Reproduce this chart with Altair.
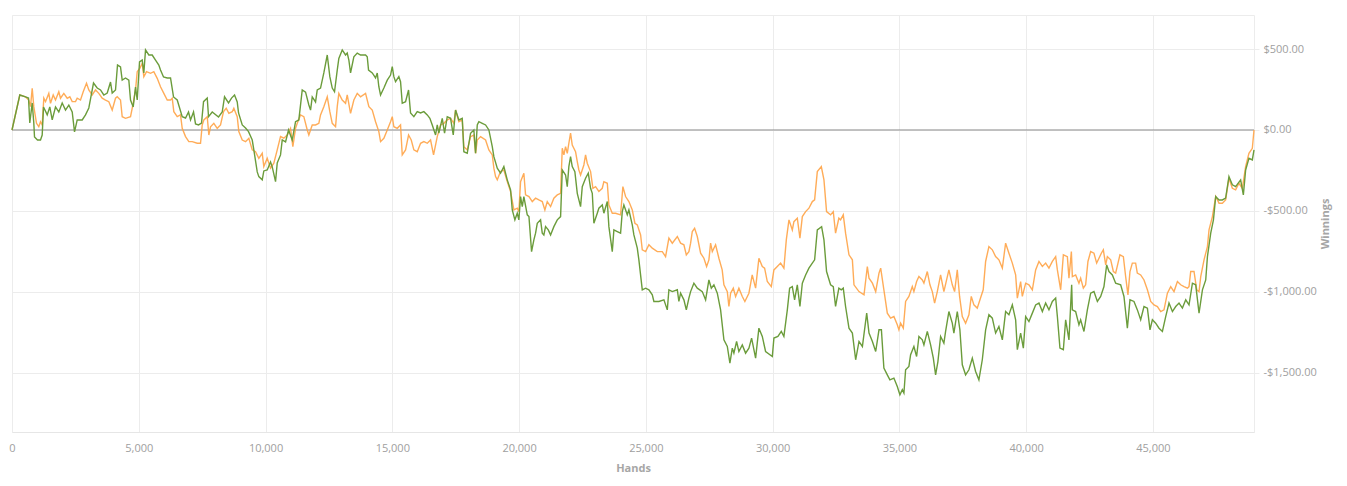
import altair as alt
import pandas as pd

green_hands = [
    0, 308, 533, 651, 702, 797, 860, 888, 1006, 1124,
    1191, 1243, 1389, 1491, 1586, 1716, 1846, 1980, 2111, 2241,
    2375, 2466, 2572, 2769, 2900, 3030, 3215, 3361, 3491, 3622,
    3756, 3886, 3953, 4083, 4162, 4280, 4347, 4478, 4608, 4675,
    4781, 4872, 4939, 5030, 5136, 5200, 5267, 5397, 5531, 5661,
    5791, 5858, 5977, 6123, 6253, 6371, 6517, 6714, 6845, 6963,
    7042, 7160, 7239, 7357, 7476, 7555, 7701, 7752, 7898, 8146,
    8292, 8383, 8541, 8659, 8778, 8884, 8936, 9082, 9212, 9330,
    9476, 9539, 9673, 9736, 9870, 9933, 10067, 10198, 10265, 10395,
    10462, 10592, 10659, 10790, 10908, 11054, 11184, 11314, 11448, 11579,
    11709, 11776, 11843, 11973, 12040, 12170, 12300, 12435, 12537, 12632,
    12722, 12829, 12892, 13026, 13157, 13223, 13287, 13354, 13484, 13618,
    13748, 13946, 14012, 14064, 14210, 14340, 14407, 14470, 14537, 14668,
    14802, 14932, 14999, 15062, 15129, 15259, 15326, 15393, 15524, 15642,
    15721, 15851, 15985, 16116, 16246, 16380, 16483, 16577, 16707, 16774,
    16837, 16971, 17062, 17168, 17299, 17405, 17496, 17626, 17760, 17823,
    17957, 18088, 18218, 18285, 18352, 18415, 18549, 18680, 18810, 18944,
    19007, 19141, 19271, 19401, 19535, 19666, 19733, 19836, 19930, 19993,
    20060, 20127, 20190, 20324, 20391, 20494, 20585, 20652, 20719, 20849,
    20916, 20979, 21046, 21153, 21244, 21374, 21508, 21639, 21705, 21835,
    21902, 21965, 22032, 22099, 22202, 22297, 22427, 22494, 22624, 22731,
    22822, 22889, 22952, 23086, 23149, 23283, 23346, 23481, 23544, 23678,
    23741, 23875, 24005, 24072, 24135, 24270, 24333, 24467, 24530, 24664,
    24727, 24861, 24992, 25122, 25256, 25319, 25516, 25714, 25848, 25911,
    26045, 26243, 26305, 26372, 26503, 26598, 26700, 26767, 26897, 27031,
    27228, 27359, 27489, 27584, 27686, 27820, 27950, 28081, 28215, 28317,
    28412, 28475, 28581, 28672, 28806, 28936, 29067, 29173, 29331, 29461,
    29595, 29725, 29990, 30053, 30211, 30345, 30447, 30582, 30673, 30779,
    30869, 30976, 31079, 31174, 31304, 31434, 31568, 31659, 31765, 31935,
    32027, 32130, 32288, 32395, 32485, 32615, 32710, 32789, 32880, 33014,
    33148, 33278, 33409, 33543, 33713, 33804, 33938, 34068, 34198, 34293,
    34391, 34526, 34628, 34786, 34920, 35023, 35118, 35181, 35248, 35378,
    35445, 35575, 35682, 35773, 35907, 35970, 36104, 36234, 36341, 36431,
    36522, 36628, 36758, 36825, 36955, 37089, 37152, 37286, 37389, 37484,
    37614, 37745, 37879, 38009, 38139, 38273, 38404, 38534, 38668, 38798,
    38928, 39063, 39193, 39323, 39457, 39588, 39655, 39785, 39892, 39983,
    40113, 40247, 40377, 40508, 40642, 40772, 40902, 41036, 41167, 41234,
    41336, 41470, 41561, 41691, 41798, 41825, 41955, 42085, 42152, 42283,
    42417, 42547, 42677, 42812, 42942, 43072, 43179, 43269, 43403, 43533,
    43731, 43861, 43995, 44098, 44256, 44390, 44520, 44651, 44785, 44888,
    44982, 45112, 45243, 45377, 45507, 45637, 45772, 45902, 46032, 46166,
    46297, 46427, 46561, 46691, 46822, 46956, 47086, 47153, 47283, 47390,
    47480, 47611, 47741, 47871, 48002, 48136, 48266, 48463, 48570, 48660,
    48790, 48924, 48990,
]
green_winnings = [
    0, 216, 204, 197, 43, 167, 43, -43, -62, -62,
    -31, 142, 93, 142, 62, 142, 111, 167, 123, 154,
    111, -12, 62, 62, 93, 136, 290, 259, 247, 216,
    228, 296, 228, 247, 401, 389, 308, 321, 308, 185,
    142, 265, 185, 420, 432, 352, 494, 463, 463, 432,
    401, 370, 327, 321, 321, 204, 185, 82, 74, 111,
    62, 111, 37, 31, 43, 175, 197, 82, 111, 80,
    111, 205, 167, 197, 216, 173, 105, 31, 12, -10,
    -62, -123, -259, -288, -308, -253, -247, -197, -228, -319,
    -204, -154, -62, -74, 0, -62, 51, 62, 247, 234,
    154, 123, 204, 173, 247, 259, 352, 463, 329, 259,
    236, 370, 442, 494, 463, 475, 432, 352, 452, 475,
    463, 463, 452, 370, 352, 321, 352, 267, 216, 259,
    308, 339, 391, 329, 298, 329, 298, 165, 175, 247,
    105, 82, 113, 105, 113, 93, 72, 31, -31, 31,
    -20, 72, -20, 82, 72, -31, 123, 62, 72, -134,
    -144, -20, 0, -144, 31, 51, 41, 31, 0, -103,
    -165, -236, -267, -226, -308, -370, -494, -555, -514, -555,
    -411, -473, -411, -524, -535, -751, -679, -637, -576, -555,
    -637, -648, -597, -617, -648, -597, -555, -535, -247, -278,
    -350, -226, -165, -226, -257, -391, -473, -350, -298, -267,
    -360, -391, -576, -514, -483, -463, -514, -442, -597, -751,
    -617, -627, -637, -504, -463, -524, -494, -586, -648, -730,
    -802, -987, -977, -987, -1018, -1059, -1059, -1049, -1111, -987,
    -998, -987, -1059, -1008, -1049, -1111, -1038, -998, -946, -977,
    -998, -1049, -926, -977, -956, -1008, -1111, -1296, -1337, -1440,
    -1347, -1378, -1306, -1368, -1327, -1378, -1347, -1285, -1409, -1224,
    -1275, -1368, -1399, -1285, -1275, -1244, -1275, -1111, -977, -967,
    -1049, -956, -1090, -946, -895, -853, -822, -802, -617, -597,
    -679, -874, -956, -967, -1090, -977, -987, -977, -1090, -1224,
    -1254, -1419, -1306, -1337, -1131, -1254, -1306, -1368, -1234, -1234,
    -1470, -1512, -1543, -1532, -1584, -1635, -1604, -1625, -1481, -1460,
    -1388, -1337, -1399, -1275, -1296, -1327, -1244, -1327, -1409, -1512,
    -1430, -1275, -1316, -1244, -1121, -1193, -1254, -1121, -1234, -1450,
    -1512, -1481, -1409, -1491, -1543, -1419, -1234, -1141, -1162, -1254,
    -1214, -1296, -1121, -1141, -1080, -1172, -1357, -1254, -1347, -1152,
    -1183, -1131, -1080, -1069, -1121, -1069, -1111, -1059, -1038, -1152,
    -1347, -1357, -1172, -1296, -956, -1111, -1121, -1203, -1172, -1244,
    -1111, -1008, -998, -1059, -1028, -967, -833, -874, -895, -946,
    -956, -1028, -1224, -1049, -1059, -1111, -1172, -1090, -1100, -1234,
    -1172, -1193, -1224, -1244, -1152, -1069, -1121, -1090, -1069, -1100,
    -1049, -1080, -946, -956, -1131, -987, -926, -782, -637, -555,
    -411, -432, -432, -421, -288, -339, -350, -308, -401, -247,
    -175, -185, -123,
]

orange_hands = [
    0, 308, 533, 663, 730, 797, 860, 967, 1057, 1124,
    1191, 1255, 1322, 1452, 1519, 1625, 1716, 1846, 1913, 2044,
    2178, 2280, 2375, 2505, 2572, 2702, 2809, 2939, 3030, 3164,
    3294, 3424, 3558, 3689, 3819, 3953, 4083, 4150, 4280, 4347,
    4478, 4675, 4781, 4872, 4939, 5042, 5136, 5200, 5306, 5464,
    5594, 5728, 5858, 5989, 6123, 6253, 6320, 6383, 6517, 6647,
    6714, 6845, 6975, 7109, 7306, 7436, 7503, 7567, 7701, 7764,
    7831, 7961, 8095, 8225, 8344, 8450, 8553, 8687, 8750, 8884,
    8947, 9082, 9212, 9342, 9476, 9606, 9736, 9870, 9933, 10067,
    10198, 10328, 10462, 10592, 10722, 10857, 10987, 11078, 11184, 11251,
    11381, 11511, 11646, 11709, 11843, 11973, 12103, 12170, 12300, 12435,
    12537, 12632, 12762, 12829, 12892, 13026, 13157, 13223, 13354, 13484,
    13618, 13748, 13946, 14077, 14210, 14340, 14470, 14537, 14668, 14802,
    14932, 14999, 15062, 15196, 15326, 15393, 15524, 15642, 15748, 15851,
    15985, 16116, 16246, 16380, 16510, 16628, 16774, 16904, 17034, 17168,
    17299, 17429, 17496, 17626, 17760, 17823, 17957, 18088, 18218, 18285,
    18352, 18483, 18680, 18810, 18944, 19007, 19074, 19141, 19271, 19401,
    19535, 19666, 19796, 19930, 19993, 20060, 20190, 20257, 20391, 20522,
    20652, 20782, 20916, 21019, 21113, 21244, 21374, 21508, 21639, 21705,
    21769, 21835, 21902, 21965, 22032, 22099, 22229, 22297, 22360, 22427,
    22557, 22624, 22691, 22822, 22913, 23019, 23149, 23283, 23346, 23481,
    23544, 23678, 23808, 24005, 24096, 24202, 24333, 24467, 24570, 24664,
    24795, 24861, 24992, 25122, 25256, 25453, 25650, 25780, 25911, 26045,
    26243, 26372, 26503, 26598, 26700, 26767, 26834, 26925, 27031, 27162,
    27292, 27398, 27489, 27556, 27623, 27753, 27883, 28013, 28081, 28215,
    28278, 28345, 28451, 28542, 28672, 28806, 28908, 29067, 29197, 29331,
    29461, 29595, 29686, 29792, 29950, 30053, 30187, 30317, 30447, 30542,
    30647, 30779, 30842, 30976, 31079, 31174, 31304, 31434, 31568, 31659,
    31765, 31923, 32027, 32130, 32288, 32395, 32485, 32615, 32682, 32789,
    32880, 33014, 33148, 33211, 33409, 33607, 33738, 33804, 33938, 34068,
    34198, 34265, 34391, 34526, 34656, 34786, 34920, 34983, 35050, 35157,
    35248, 35378, 35512, 35575, 35682, 35773, 35907, 35970, 36104, 36207,
    36301, 36392, 36498, 36628, 36758, 36955, 37089, 37180, 37286, 37377,
    37484, 37614, 37745, 37838, 37942, 38073, 38203, 38309, 38404, 38534,
    38668, 38798, 38928, 39063, 39193, 39323, 39457, 39588, 39655, 39785,
    39852, 39983, 40113, 40247, 40377, 40508, 40642, 40772, 40902, 41036,
    41167, 41234, 41364, 41470, 41628, 41691, 41786, 41825, 41955, 42085,
    42152, 42258, 42349, 42440, 42547, 42677, 42784, 42875, 42968, 43047,
    43140, 43206, 43337, 43443, 43533, 43702, 43837, 43927, 44018, 44098,
    44191, 44321, 44387, 44520, 44651, 44785, 44915, 45045, 45180, 45310,
    45440, 45574, 45705, 45835, 45969, 46099, 46230, 46364, 46427, 46494,
    46624, 46731, 46822, 46889, 47019, 47153, 47216, 47349, 47480, 47611,
    47741, 47871, 48002, 48136, 48266, 48396, 48530, 48660, 48790, 48924,
    48990,
]
orange_winnings = [
    0, 216, 204, 185, 144, 257, 144, 41, 20, 51,
    31, 196, 175, 226, 165, 216, 185, 236, 196, 226,
    196, 205, 175, 175, 196, 185, 236, 288, 247, 216,
    247, 226, 196, 185, 175, 123, 196, 205, 185, 82,
    72, 82, 165, 247, 360, 381, 412, 329, 360, 350,
    360, 319, 267, 226, 185, 185, 196, 113, 82, 93,
    10, -41, -72, -72, -82, -82, 31, 62, 82, -31,
    20, 41, 10, 31, 113, 134, 103, 113, 134, 82,
    -10, -62, -72, -51, -123, -134, -175, -144, -226, -175,
    -236, -205, -123, -41, -51, -31, 10, -103, 10, 41,
    93, 82, 0, -31, 31, 31, 41, 93, 144, 205,
    113, 41, 20, 144, 226, 185, 165, 216, 103, 185,
    226, 205, 226, 144, 123, 51, -10, -72, -51, 0,
    51, 82, 20, 10, 31, -154, -123, -31, -62, -123,
    -134, -82, -72, -82, -62, -154, -41, 31, 41, 62,
    72, 41, 123, 51, 62, -103, -123, -41, -31, -144,
    -62, -41, -62, -123, -154, -236, -288, -308, -257, -247,
    -319, -380, -494, -483, -504, -319, -267, -401, -411, -442,
    -421, -432, -442, -494, -442, -473, -421, -401, -391, -113,
    -154, -103, -144, -82, -20, -93, -134, -196, -247, -278,
    -216, -154, -205, -257, -360, -350, -380, -360, -319, -329,
    -463, -514, -514, -524, -350, -411, -442, -494, -576, -586,
    -648, -740, -751, -709, -730, -751, -751, -782, -668, -699,
    -658, -699, -709, -771, -751, -699, -627, -607, -658, -761,
    -792, -843, -802, -699, -751, -709, -792, -864, -956, -998,
    -1090, -1008, -977, -1028, -977, -1028, -1059, -1008, -895, -977,
    -792, -843, -853, -936, -967, -864, -843, -822, -853, -679,
    -555, -617, -566, -545, -668, -535, -504, -483, -442, -432,
    -257, -226, -308, -504, -524, -504, -637, -545, -555, -524,
    -637, -771, -802, -956, -998, -1018, -843, -915, -946, -998,
    -884, -853, -987, -1131, -1162, -1152, -1203, -1234, -1193, -1224,
    -1059, -1028, -967, -998, -936, -905, -926, -946, -874, -956,
    -998, -1069, -998, -895, -998, -864, -956, -998, -864, -1028,
    -1152, -1193, -1141, -1028, -1080, -1100, -1038, -987, -812, -720,
    -740, -782, -802, -853, -699, -761, -822, -895, -1038, -936,
    -1028, -946, -956, -987, -864, -812, -843, -822, -853, -812,
    -782, -864, -987, -771, -782, -915, -751, -905, -895, -946,
    -915, -977, -956, -812, -751, -761, -822, -792, -761, -740,
    -833, -782, -802, -874, -884, -771, -782, -905, -1018, -874,
    -822, -822, -884, -895, -926, -987, -1059, -1080, -1090, -1121,
    -1111, -1008, -967, -998, -936, -956, -967, -977, -967, -874,
    -874, -987, -998, -905, -802, -720, -617, -535, -411, -452,
    -452, -432, -298, -360, -370, -329, -360, -226, -144, -113,
    0,
]

x_ticks = [0, 5000, 10000, 15000, 20000, 25000, 30000, 35000, 40000, 45000]
y_ticks = [-1500, -1000, -500, 0, 500]
baseline = [0]

FONT = "Segoe UI, Open Sans, sans-serif"
GRID = "#ececec"

x_enc = alt.X(
    "hands:Q",
    scale=alt.Scale(domain=[0, 48990], nice=False, zero=False),
    axis=alt.Axis(
        values=x_ticks, format=",.0f", title="Hands", grid=True, gridColor=GRID,
        domainColor="#e6e6e6", ticks=False, labelColor="#a0a0a0", labelFontSize=11,
        labelPadding=10, labelFont=FONT, titleFont=FONT, titleFontSize=11,
        titleFontWeight="bold", titleColor="#a6a6a6", titlePadding=9,
        labelFlush=False,
    ),
)
y_enc = alt.Y(
    "win:Q",
    scale=alt.Scale(domain=[-1865, 710], nice=False, zero=False),
    axis=alt.Axis(
        orient="right", values=y_ticks, title="Winnings", titleAngle=270,
        labelExpr="datum.value < 0 ? '-$' + format(-datum.value, ',.2f') : '$' + format(datum.value, ',.2f')",
        domain=False, grid=True, gridColor=GRID, tickColor=GRID, tickSize=5,
        labelColor="#a0a0a0", labelFontSize=11, labelPadding=4, labelFont=FONT,
        titleFont=FONT, titleFontSize=11, titleFontWeight="bold", titleColor="#a6a6a6",
        titlePadding=14,
    ),
)

orange_df = pd.DataFrame({"hands": orange_hands, "win": orange_winnings})
green_df = pd.DataFrame({"hands": green_hands, "win": green_winnings})
zero_df = pd.DataFrame({"win": baseline})

zero_rule = alt.Chart(zero_df).mark_rule(color="#8c8c8c", strokeWidth=1).encode(y=y_enc)
orange_line = alt.Chart(orange_df).mark_line(color="#ffa346", strokeWidth=1.4, opacity=0.9).encode(x=x_enc, y=y_enc)
green_line = alt.Chart(green_df).mark_line(color="#6b9c3b", strokeWidth=1.4).encode(x=x_enc, y=y_enc)

chart = (
    alt.layer(zero_rule, orange_line, green_line)
    .properties(width=1242, height=417, padding={"left": 0, "top": 7, "right": 2, "bottom": 0})
    .configure_view(stroke=GRID)
)

chart.save("out.html", embed_options={"renderer": "svg", "actions": False})
